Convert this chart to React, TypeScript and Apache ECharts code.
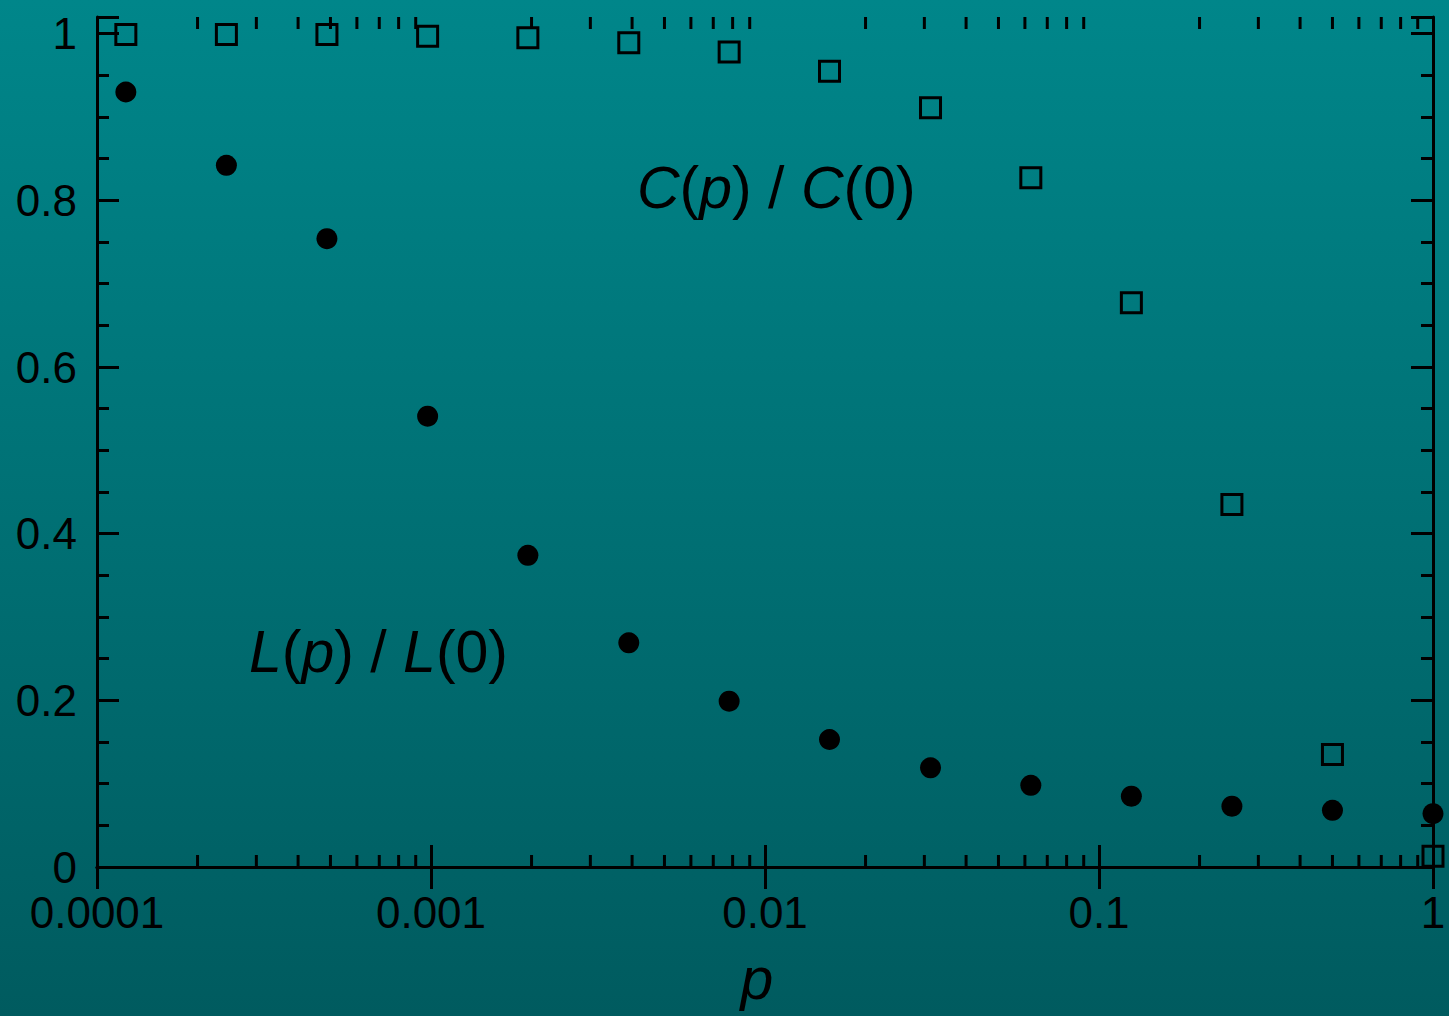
import React, { useEffect, useRef } from "react";
import * as echarts from "echarts";

// rewiring probability p
const pValues = [0.000122, 0.000244, 0.000488, 0.000977, 0.00195, 0.00391, 0.00781, 0.0156, 0.0313, 0.0625, 0.125, 0.25, 0.5, 1];
// normalised clustering coefficient C(p)/C(0)
const cValues = [0.999, 0.999, 0.999, 0.997, 0.995, 0.989, 0.978, 0.955, 0.911, 0.827, 0.677, 0.435, 0.135, 0.013];
// normalised characteristic path length L(p)/L(0)
const lValues = [0.93, 0.842, 0.754, 0.541, 0.374, 0.269, 0.199, 0.153, 0.119, 0.098, 0.085, 0.073, 0.068, 0.064];

const xTickValues = [0.0001, 0.001, 0.01, 0.1, 1];
const xTickLabels = ["0.0001", "0.001", "0.01", "0.1", "1"];
const yTickValues = [0, 0.2, 0.4, 0.6, 0.8, 1];
const yTickLabels = ["0", "0.2", "0.4", "0.6", "0.8", "1"];
const xMinorMultipliers = [2, 3, 4, 5, 6, 7, 8, 9];
const xMinorDecades = [0.0001, 0.001, 0.01, 0.1];

const X_MIN = 0.0001;
const X_MAX = 1;
const Y_MIN = 0;
const Y_MAX = 1.02;

const FONT = "'Liberation Sans', Arial, Helvetica, sans-serif";

export default function App() {
  const ref = useRef<HTMLDivElement>(null);

  useEffect(() => {
    document.body.style.margin = "0";
    if (!ref.current) return;
    const chart = echarts.init(ref.current, undefined, { renderer: "svg" });

    const xMinor: number[][] = [];
    xMinorDecades.forEach((d) => xMinorMultipliers.forEach((m) => xMinor.push([d * m, 0])));

    const xLabel = (v: number) => {
      const i = xTickValues.findIndex((t) => Math.abs(Math.log10(t) - Math.log10(v)) < 1e-6);
      return i >= 0 ? xTickLabels[i] : "";
    };
    const yLabel = (v: number) => {
      const i = yTickValues.findIndex((t) => Math.abs(t - v) < 1e-6);
      return i >= 0 ? yTickLabels[i] : "";
    };

    const axisLine = { show: true, lineStyle: { color: "#000", width: 3 } };
    const majorTick = { show: true, inside: true, length: 22, lineStyle: { color: "#000", width: 3 } };

    const textStyle = (size: number) => ({ fill: "#000", fontFamily: FONT, fontSize: size });

    chart.setOption({
      animation: false,
      backgroundColor: new echarts.graphic.LinearGradient(0, 0, 0, 1, [
        { offset: 0, color: "#00868a" },
        { offset: 1, color: "#005b5f" },
      ]),
      grid: { left: 97, right: 16, top: 17, bottom: 149, containLabel: false },
      xAxis: [
        {
          type: "log",
          logBase: 10,
          min: X_MIN,
          max: X_MAX,
          position: "bottom",
          axisLine,
          axisTick: majorTick,
          splitLine: { show: false },
          axisLabel: {
            color: "#000",
            fontFamily: FONT,
            fontSize: 44,
            margin: 23,
            formatter: xLabel,
          },
        },
        {
          type: "log",
          logBase: 10,
          min: X_MIN,
          max: X_MAX,
          position: "top",
          axisLine,
          axisTick: majorTick,
          splitLine: { show: false },
          axisLabel: { show: false },
        },
      ],
      yAxis: [
        {
          type: "value",
          min: Y_MIN,
          max: Y_MAX,
          interval: 0.2,
          position: "left",
          axisLine,
          axisTick: majorTick,
          minorTick: { show: true, splitNumber: 4, length: 12, lineStyle: { color: "#000", width: 3 } },
          splitLine: { show: false },
          minorSplitLine: { show: false },
          axisLabel: {
            color: "#000",
            fontFamily: FONT,
            fontSize: 44,
            margin: 20,
            padding: [0, 0, 10, 0],
            formatter: yLabel,
          },
        },
        {
          type: "value",
          min: Y_MIN,
          max: Y_MAX,
          interval: 0.2,
          position: "right",
          axisLine,
          axisTick: majorTick,
          minorTick: { show: true, splitNumber: 4, length: 12, lineStyle: { color: "#000", width: 3 } },
          splitLine: { show: false },
          minorSplitLine: { show: false },
          axisLabel: { show: false },
        },
      ],
      series: [
        {
          type: "custom",
          xAxisIndex: 0,
          yAxisIndex: 0,
          silent: true,
          clip: false,
          data: xMinor,
          renderItem: (_params: any, api: any) => {
            const v = api.value(0);
            const bottom = api.coord([v, Y_MIN]);
            const top = api.coord([v, Y_MAX]);
            return {
              type: "group",
              children: [
                { type: "line", shape: { x1: bottom[0], y1: bottom[1], x2: bottom[0], y2: bottom[1] - 12 }, style: { stroke: "#000", lineWidth: 3 } },
                { type: "line", shape: { x1: top[0], y1: top[1], x2: top[0], y2: top[1] + 12 }, style: { stroke: "#000", lineWidth: 3 } },
              ],
            };
          },
        },
        {
          name: "C(p)/C(0)",
          type: "scatter",
          xAxisIndex: 0,
          yAxisIndex: 0,
          clip: false,
          symbol: "rect",
          symbolSize: 20,
          itemStyle: { color: "rgba(0,0,0,0)", borderColor: "#000", borderWidth: 3, opacity: 1 },
          data: pValues.map((p, i) => [p, cValues[i]]),
        },
        {
          name: "L(p)/L(0)",
          type: "scatter",
          xAxisIndex: 0,
          yAxisIndex: 0,
          clip: false,
          symbol: "circle",
          symbolSize: 21,
          itemStyle: { color: "#000", opacity: 1 },
          data: pValues.map((p, i) => [p, lValues[i]]),
        },
      ],
      graphic: [
        {
          type: "text",
          x: 637,
          y: 188,
          style: {
            text: "{i|C}{n|(}{i|p}{n|) / }{i|C}{n|(0)}",
            verticalAlign: "middle",
            textAlign: "left",
            ...textStyle(59),
            rich: {
              i: { ...textStyle(59), fontStyle: "italic" },
              n: { ...textStyle(59) },
            },
          },
        },
        {
          type: "text",
          x: 249,
          y: 652,
          style: {
            text: "{i|L}{n|(}{i|p}{n|) / }{i|L}{n|(0)}",
            verticalAlign: "middle",
            textAlign: "left",
            ...textStyle(59),
            rich: {
              i: { ...textStyle(59), fontStyle: "italic" },
              n: { ...textStyle(59) },
            },
          },
        },
        {
          type: "text",
          x: 757,
          y: 979,
          style: {
            text: "p",
            textAlign: "center",
            verticalAlign: "middle",
            ...textStyle(59),
            fontStyle: "italic",
          },
        },
      ],
    });

    return () => chart.dispose();
  }, []);

  return <div ref={ref} style={{ width: 1449, height: 1016 }} />;
}
